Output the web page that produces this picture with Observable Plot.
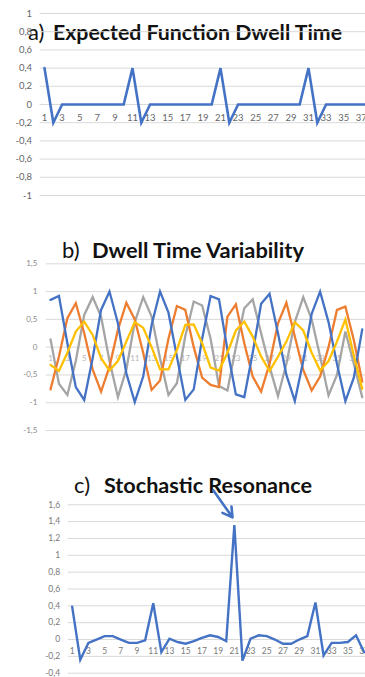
<!DOCTYPE html>
<html><head><meta charset="utf-8">
<script src="https://cdn.jsdelivr.net/npm/d3@7"></script>
<script src="https://cdn.jsdelivr.net/npm/@observablehq/plot@0.6"></script>
<style>
html,body{margin:0;padding:0;background:#fff;}
#root{position:relative;width:365px;height:677px;overflow:hidden;background:#fff;}
#root > svg{position:absolute;left:0;}
</style></head><body><div id="root"></div>
<script>
// ---------- data ----------
// Panel a: expected function dwell time
const ticksA = [-1, -0.8, -0.6, -0.4, -0.2, 0, 0.2, 0.4, 0.6, 0.8, 1];
const catLabelsA = [1,3,5,7,9,11,13,15,17,19,21,23,25,27,29,31,33,35,37];
const valuesA = [0.4,-0.2,0,0,0,0,0,0,0,0, 0.4,-0.2,0,0,0,0,0,0,0,0, 0.4,-0.2,0,0,0,0,0,0,0,0, 0.4,-0.2,0,0,0,0,0,0];

// Panel b: dwell time variability (four series)
const ticksB = [-1.5, -1, -0.5, 0, 0.5, 1, 1.5];
const catLabelsB = [1,3,5,7,9,11,13,15,17,19,21,23,25,27,29,31,33,35,37];
const blueB   = [0.85,0.92,0.07,-0.72,-0.95,-0.2,0.67,1.0,0.43,-0.47,-0.99,-0.53,0.4,1.0,0.62,-0.17,-0.95,-0.76,0.15,0.92,0.86,-0.05,-0.85,-0.9,-0.1,0.78,0.96,0.25,-0.5,-0.97,-0.25,0.6,1.0,0.45,-0.3,-0.97,-0.55,0.32];
const orangeB = [-0.76,-0.17,0.52,0.79,0.25,-0.4,-0.8,-0.35,0.31,0.8,0.5,-0.1,-0.77,-0.6,0.15,0.74,0.67,0.0,-0.55,-0.68,-0.72,0.55,0.77,0.07,-0.53,-0.8,-0.3,0.43,0.8,0.19,-0.41,-0.78,-0.53,0.0,0.67,0.73,0.13,-0.62];
const grayB   = [0.14,-0.66,-0.86,-0.25,0.58,0.9,0.55,-0.25,-0.9,-0.4,0.45,0.9,0.55,-0.2,-0.86,-0.65,0.2,0.82,0.75,0.15,-0.7,-0.78,0.0,0.7,0.86,0.25,-0.35,-0.88,-0.3,0.45,0.9,0.5,-0.17,-0.87,-0.5,0.28,-0.3,-0.9];
const yellowB = [-0.32,-0.43,-0.1,0.28,0.46,0.22,-0.2,-0.42,-0.25,0.1,0.45,0.35,0.0,-0.4,-0.4,-0.05,0.4,0.41,0.07,-0.37,-0.42,-0.1,0.3,0.46,0.19,-0.17,-0.43,-0.17,0.1,0.45,0.3,-0.1,-0.42,-0.25,0.1,0.5,-0.15,-0.75];

// Panel c: stochastic resonance
const ticksC = [-0.4, -0.2, 0, 0.2, 0.4, 0.6, 0.8, 1, 1.2, 1.4, 1.6];
const catLabelsC = [1,3,5,7,9,11,13,15,17,19,21,23,25,27,29,31,33,35,37];
const valuesC = [0.39,-0.24,-0.04,0.0,0.04,0.04,0.0,-0.04,-0.04,-0.01, 0.43,-0.15,0.01,-0.03,-0.05,-0.02,0.02,0.05,0.03,-0.02, 1.36,-0.25,0.01,0.05,0.04,0.0,-0.05,-0.05,0.0,0.04, 0.44,-0.19,-0.04,-0.04,-0.03,0.05,-0.15];
const arrowC = [{x1: 18.42, y1: 1.77, x2: 20.77, y2: 1.45}];

const titles = [
  {tag: "a)", main: "Expected Function Dwell Time"},
  {tag: "b)", main: "Dwell Time Variability"},
  {tag: "c)", main: "Stochastic Resonance"}
];

// ---------- styles / layout ----------
const BLUE = "#4472c4", ORANGE = "#ed7d31", GRAY = "#a5a5a5", YELLOW = "#ffc000";
const GRID = "#d9d9d9";
const FONT = "Lato, 'Open Sans', sans-serif";
const fmt = d => String(d).replace(".", ",");
const root = document.getElementById("root");

// Titles layer (below the charts)
const NS = "http://www.w3.org/2000/svg";
const tsvg = document.createElementNS(NS, "svg");
tsvg.setAttribute("width", 365); tsvg.setAttribute("height", 677);
tsvg.style.top = "0px";
root.appendChild(tsvg);
const titleLayout = [
  {tagX: 28, mainX: 53, mainW: 289, base: 40},
  {tagX: 62, mainX: 92, mainW: 212, base: 258},
  {tagX: 74, mainX: 104, mainW: 208, base: 493}
];
titles.forEach((t, i) => {
  const L = titleLayout[i];
  const a = document.createElementNS(NS, "text");
  a.setAttribute("x", L.tagX); a.setAttribute("y", L.base);
  a.setAttribute("font-family", FONT); a.setAttribute("font-size", 22);
  a.setAttribute("fill", "#111");
  a.textContent = t.tag;
  tsvg.appendChild(a);
  const b = document.createElementNS(NS, "text");
  b.setAttribute("x", L.mainX); b.setAttribute("y", L.base);
  b.setAttribute("font-family", FONT); b.setAttribute("font-size", 21);
  b.setAttribute("font-weight", 700); b.setAttribute("fill", "#111");
  b.setAttribute("textLength", L.mainW); b.setAttribute("lengthAdjust", "spacingAndGlyphs");
  b.textContent = t.main;
  tsvg.appendChild(b);
});

function panel(opts) {
  const {top, height, marginTop, marginBottom, marginLeft, step, nBands, yDomain, ticks,
         catLabels, catDy, catColor, tickColor, tickSize, catSize, tickDx, series, extra = []} = opts;
  const width = marginLeft + nBands * step;
  const chart = Plot.plot({
    width, height, marginLeft, marginRight: 0, marginTop, marginBottom,
    x: {domain: [0.5, nBands + 0.5], axis: null},
    y: {domain: yDomain, axis: null},
    style: {background: "transparent", maxWidth: "none", overflow: "visible", fontFamily: FONT},
    marks: [
      Plot.ruleY(ticks, {stroke: GRID, strokeWidth: 1}),
      Plot.text(ticks, {y: d => d, frameAnchor: "left", textAnchor: "end", dx: tickDx,
        text: fmt, fill: tickColor, fontSize: tickSize}),
      Plot.text(catLabels, {x: d => d, y: () => 0, dy: catDy, text: d => String(d),
        fill: catColor, fontSize: catSize}),
      ...series.map(s => Plot.line(s.values, {x: (d, i) => i + 1, y: d => d,
        stroke: s.color, strokeWidth: s.width, strokeLinejoin: "miter", strokeMiterlimit: 4})),
      ...extra
    ]
  });
  chart.style.position = "absolute";
  chart.style.top = top + "px";
  chart.style.left = "0px";
  root.appendChild(chart);
}

// Panel a
panel({
  top: 0, height: 210, marginTop: 13, marginBottom: 15,
  marginLeft: 39.6, step: 8.8, nBands: 40,
  yDomain: [-1, 1], ticks: ticksA, catLabels: catLabelsA, catDy: 13,
  catColor: "#666", tickColor: "#666", tickSize: 9.5, catSize: 9.5, tickDx: -8,
  series: [{values: valuesA, color: BLUE, width: 2.6}]
});

// Panel b
panel({
  top: 230, height: 215, marginTop: 33.3, marginBottom: 15,
  marginLeft: 45.8, step: 8.425, nBands: 40,
  yDomain: [-1.5, 1.5], ticks: ticksB, catLabels: catLabelsB, catDy: 11,
  catColor: "#b5b5b5", tickColor: "#8a8a8a", tickSize: 8, catSize: 8, tickDx: -9,
  series: [
    {values: grayB, color: GRAY, width: 2.3},
    {values: orangeB, color: ORANGE, width: 2.3},
    {values: blueB, color: BLUE, width: 2.3},
    {values: yellowB, color: YELLOW, width: 2.3}
  ]
});

// Panel c
panel({
  top: 460, height: 217, marginTop: 44.3, marginBottom: 4.3,
  marginLeft: 67.6, step: 8.11, nBands: 40,
  yDomain: [-0.4, 1.6], ticks: ticksC, catLabels: catLabelsC, catDy: 12,
  catColor: "#7a7a7a", tickColor: "#7a7a7a", tickSize: 8.5, catSize: 8.5, tickDx: -8,
  series: [{values: valuesC, color: BLUE, width: 2.4}],
  extra: [Plot.arrow(arrowC, {x1: "x1", y1: "y1", x2: "x2", y2: "y2",
    stroke: BLUE, strokeWidth: 2.6, headLength: 9})]
});
</script></body></html>
